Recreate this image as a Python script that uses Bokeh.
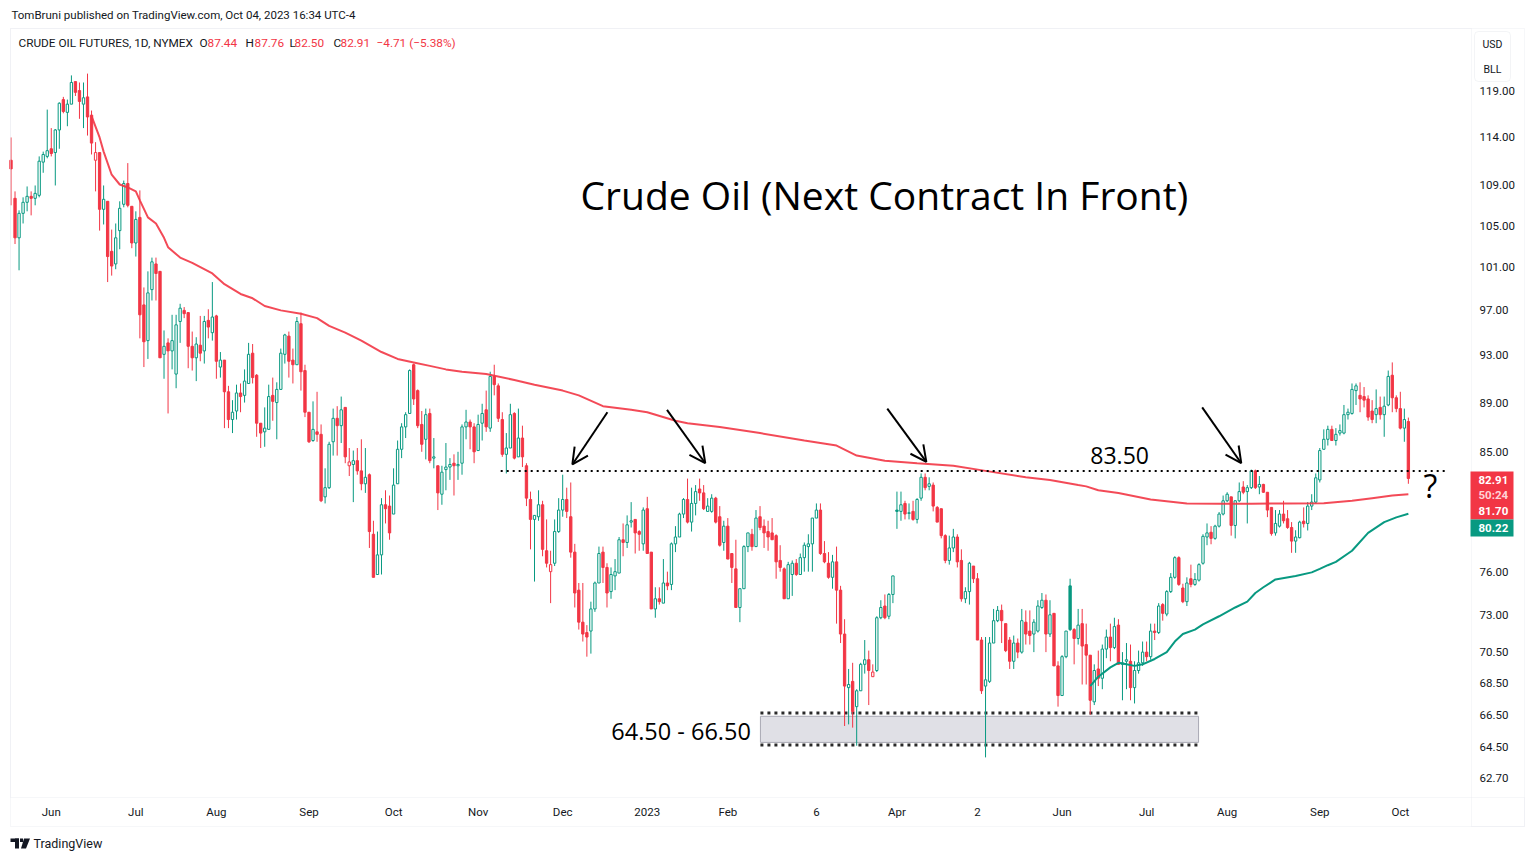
from bokeh.plotting import figure
from bokeh.models import (Range1d, FixedTicker, PrintfTickFormatter, Label,
                          Arrow, OpenHead, BoxAnnotation, PolyAnnotation)
from bokeh.embed import file_html
from bokeh.resources import INLINE

# ---------------- daily candles (bar 0 = 17 May 2022 ... bar 347 = 04 Oct 2023)
opens = [
    111.6, 107.7, 103.8, 106.2, 107.3, 107.9, 107.7, 108.0, 111.4, 112.0,
    112.8, 112.4, 114.8, 118.1, 116.7, 117.6, 120.1, 119.1, 117.6, 118.4,
    116.4, 111.6, 112.4, 106.6, 107.4, 102.5, 101.3, 104.5, 107.1, 109.2,
    106.9, 103.3, 105.8, 97.5, 94.3, 98.9, 101.3, 100.6, 93.1, 94.1,
    93.4, 91.4, 96.0, 97.0, 96.8, 93.8, 92.8, 93.9, 93.4, 96.1,
    95.0, 96.5, 92.0, 92.6, 89.9, 87.6, 88.3, 89.8, 89.6, 90.6,
    93.2, 91.3, 87.3, 86.6, 86.8, 89.6, 89.0, 90.1, 93.1, 94.7,
    92.6, 92.2, 95.8, 91.7, 88.2, 85.9, 86.6, 86.4, 81.5, 82.2,
    85.8, 87.7, 87.1, 88.6, 83.9, 84.0, 84.3, 83.5, 82.5, 83.2,
    78.7, 75.8, 77.2, 80.9, 80.8, 80.2, 82.5, 85.2, 87.0, 88.1,
    92.2, 90.0, 87.2, 86.0, 88.1, 84.5, 83.9, 81.7, 83.6, 83.8,
    84.1, 83.9, 84.1, 87.0, 87.4, 87.0, 85.1, 87.3, 88.4, 86.9,
    91.2, 90.4, 87.6, 84.8, 85.3, 88.1, 84.6, 86.1, 83.9, 81.3,
    79.8, 80.0, 80.9, 77.5, 76.0, 76.6, 78.9, 80.5, 81.3, 80.0,
    77.4, 74.7, 72.5, 71.8, 71.9, 73.4, 75.2, 77.4, 76.3, 74.6,
    75.7, 75.9, 78.3, 78.1, 79.6, 79.8, 78.9, 78.0, 80.6, 77.4,
    73.4, 74.1, 73.8, 75.2, 75.1, 78.0, 78.5, 80.2, 81.3, 79.6,
    81.0, 82.1, 81.8, 80.4, 80.4, 81.4, 80.0, 78.1, 79.3, 77.3,
    76.2, 73.5, 74.8, 77.8, 78.7, 77.8, 80.0, 79.3, 78.9, 78.8,
    78.6, 76.8, 76.2, 74.1, 75.8, 76.6, 75.8, 77.0, 77.8, 78.0,
    79.9, 80.5, 77.3, 76.6, 75.6, 76.7, 74.7, 71.7, 68.2, 68.6,
    67.0, 68.0, 69.7, 70.0, 68.9, 69.3, 72.8, 73.6, 72.9, 74.4,
    80.5, 80.4, 81.0, 80.25, 80.4, 79.8, 81.4, 83.0, 82.3, 82.4,
    80.7, 80.6, 78.6, 76.8, 77.7, 78.5, 76.8, 74.1, 74.6, 76.4,
    75.5, 71.3, 68.3, 68.6, 71.1, 72.6, 73.3, 72.4, 71.3, 69.9,
    71.1, 70.5, 72.5, 71.9, 71.7, 71.9, 73.5, 74.0, 71.7, 73.1,
    69.6, 67.7, 70.2, 75.0, 72.0, 71.4, 72.4, 71.0, 70.3, 67.3,
    69.4, 68.8, 70.7, 71.5, 70.8, 72.3, 69.7, 69.9, 69.9, 68.2,
    69.3, 69.8, 70.5, 70.2, 71.9, 71.8, 73.7, 73.05, 74.6, 75.6,
    77.0, 74.85, 73.9, 75.5, 75.1, 75.4, 76.6, 78.5, 78.85, 78.4,
    79.3, 80.2, 81.2, 81.5, 79.35, 81.2, 82.25, 81.9, 82.2, 83.5,
    82.25, 82.45, 81.85, 80.7, 78.8, 79.3, 80.2, 79.85, 79.2, 78.2,
    78.45, 79.67, 79.5, 80.8, 81.1, 82.8, 85.2, 86.0, 86.8, 85.9,
    86.5, 86.5, 88.0, 88.1, 90.0, 89.6, 89.5, 89.3, 88.3, 88.0,
    88.6, 88.0, 88.8, 91.3, 89.4, 88.5, 86.9, 87.44]
highs = [
    114.0, 108.4, 106.5, 107.8, 108.9, 108.4, 109.0, 112.0, 112.5, 117.0,
    115.0, 114.9, 117.8, 118.4, 118.1, 120.8, 120.1, 120.0, 120.0, 121.0,
    116.9, 113.5, 112.4, 109.0, 107.4, 104.6, 105.2, 107.4, 109.5, 111.3,
    106.9, 106.4, 108.5, 99.1, 100.6, 101.9, 101.9, 100.6, 95.2, 94.5,
    96.6, 96.6, 97.6, 97.3, 96.8, 95.1, 94.6, 96.5, 96.5, 97.1,
    99.6, 96.6, 93.3, 92.6, 90.4, 89.2, 90.5, 90.6, 91.8, 94.1,
    94.0, 91.4, 87.3, 88.6, 90.5, 91.1, 90.7, 93.6, 94.9, 95.1,
    93.6, 96.4, 96.8, 92.2, 88.2, 89.1, 89.9, 87.2, 83.7, 85.8,
    88.5, 88.7, 89.5, 88.6, 85.3, 85.1, 85.3, 86.0, 85.3, 83.3,
    79.7, 78.9, 81.4, 82.0, 81.6, 83.7, 85.9, 87.3, 88.2, 91.8,
    92.3, 90.1, 88.3, 88.5, 88.5, 86.1, 83.9, 83.9, 85.7, 84.5,
    84.8, 85.0, 87.2, 88.4, 87.6, 87.3, 88.0, 88.9, 90.0, 91.6,
    92.2, 90.6, 88.2, 86.5, 88.9, 88.2, 88.5, 87.1, 84.1, 81.9,
    80.1, 82.0, 81.2, 79.8, 77.5, 79.8, 81.4, 83.2, 82.2, 82.6,
    78.0, 75.2, 75.2, 72.3, 73.9, 75.3, 77.8, 77.8, 76.6, 76.3,
    76.9, 78.5, 79.5, 80.1, 81.1, 79.8, 79.0, 80.7, 81.5, 77.4,
    74.9, 74.9, 76.9, 76.0, 78.1, 79.3, 80.3, 81.4, 82.9, 82.2,
    82.4, 82.9, 82.4, 81.4, 81.7, 81.5, 80.8, 79.7, 79.9, 77.3,
    78.3, 74.8, 77.9, 78.8, 79.1, 80.5, 80.8, 79.8, 79.7, 79.9,
    78.7, 77.9, 76.3, 76.7, 76.8, 76.9, 77.3, 78.1, 78.7, 79.9,
    81.0, 81.0, 78.2, 77.4, 77.2, 77.8, 75.0, 72.7, 69.4, 69.8,
    68.1, 69.8, 71.3, 70.6, 69.7, 72.9, 74.0, 74.4, 74.5, 75.7,
    81.9, 81.9, 81.2, 81.0, 81.2, 81.4, 83.3, 83.3, 83.0, 82.6,
    80.8, 80.6, 78.7, 78.6, 79.1, 78.7, 77.6, 74.9, 76.7, 76.4,
    75.9, 71.5, 71.5, 71.5, 73.4, 73.6, 73.7, 72.4, 71.5, 71.6,
    71.4, 73.4, 73.3, 73.3, 72.7, 74.0, 74.5, 74.4, 74.0, 73.1,
    69.9, 70.3, 71.9, 75.5, 72.1, 73.4, 73.4, 72.4, 70.3, 69.7,
    70.6, 71.0, 72.0, 72.4, 72.8, 72.7, 70.5, 71.1, 71.0, 69.9,
    70.6, 71.2, 71.2, 72.4, 72.4, 73.8, 73.8, 74.7, 75.9, 77.1,
    77.1, 75.15, 75.6, 76.5, 75.9, 76.6, 78.7, 79.5, 79.3, 79.4,
    80.35, 81.6, 81.85, 81.5, 81.25, 82.6, 82.7, 82.4, 83.6, 83.6,
    83.1, 82.5, 81.85, 80.7, 80.5, 80.5, 81.2, 80.5, 79.6, 79.0,
    79.7, 80.7, 81.1, 81.7, 83.3, 85.3, 86.8, 87.1, 87.1, 86.9,
    87.2, 88.8, 88.5, 90.6, 90.6, 90.7, 90.3, 89.6, 89.2, 90.1,
    89.5, 89.5, 91.7, 92.4, 89.6, 89.9, 88.5, 87.76]
lows = [
    107.0, 103.2, 100.7, 105.2, 106.4, 106.0, 107.0, 107.8, 110.3, 111.8,
    112.0, 109.0, 112.8, 116.6, 115.2, 117.6, 118.5, 116.0, 115.0, 114.2,
    112.2, 108.4, 104.5, 105.1, 99.6, 100.2, 100.8, 102.7, 106.8, 106.8,
    102.8, 102.0, 94.5, 92.0, 92.7, 97.9, 97.9, 92.8, 91.0, 88.1,
    91.8, 90.2, 94.1, 96.3, 91.9, 91.7, 90.8, 92.5, 92.3, 94.5,
    94.3, 91.0, 91.1, 86.9, 86.9, 86.5, 87.6, 88.2, 89.0, 90.6,
    90.6, 86.2, 85.3, 85.4, 86.8, 87.5, 86.0, 90.1, 92.3, 91.1,
    90.6, 92.2, 90.0, 87.8, 85.7, 85.8, 85.8, 81.1, 81.0, 82.1,
    84.7, 84.7, 85.7, 84.1, 83.1, 81.1, 83.2, 82.0, 81.8, 77.7,
    75.6, 75.8, 75.8, 79.5, 78.3, 80.2, 82.5, 84.5, 86.1, 88.1,
    88.8, 86.9, 85.0, 84.4, 84.1, 83.7, 80.5, 80.9, 82.0, 82.8,
    81.6, 82.8, 83.2, 86.0, 85.2, 84.1, 85.1, 85.9, 86.6, 86.6,
    89.6, 87.4, 84.6, 83.3, 85.3, 84.4, 84.6, 83.8, 80.8, 77.6,
    75.3, 79.7, 77.1, 76.3, 73.8, 76.4, 78.8, 80.0, 79.9, 77.0,
    73.5, 72.0, 71.2, 70.2, 70.4, 73.2, 75.2, 75.2, 73.5, 74.1,
    74.7, 75.9, 77.1, 77.7, 79.2, 77.3, 77.5, 77.5, 77.3, 73.4,
    72.8, 73.7, 73.8, 74.7, 74.7, 77.4, 78.5, 79.9, 79.5, 78.9,
    80.1, 81.2, 80.5, 80.4, 80.3, 79.5, 77.8, 77.5, 76.9, 75.2,
    73.5, 72.5, 74.8, 77.4, 77.5, 77.8, 79.0, 77.7, 77.5, 78.3,
    75.5, 76.0, 74.1, 74.1, 74.3, 75.7, 75.8, 76.0, 76.0, 76.0,
    79.9, 77.2, 76.6, 75.5, 74.8, 72.4, 71.1, 65.8, 65.9, 65.7,
    64.6, 68.0, 69.1, 67.1, 68.9, 69.2, 72.7, 72.7, 72.7, 73.8,
    79.1, 79.7, 79.8, 79.8, 79.7, 79.5, 81.2, 82.0, 82.0, 80.4,
    79.6, 78.4, 76.6, 76.5, 77.4, 76.3, 73.9, 73.8, 73.7, 75.2,
    71.3, 67.8, 63.9, 68.5, 71.1, 72.5, 71.1, 70.5, 69.4, 69.4,
    70.1, 70.4, 71.0, 71.0, 70.5, 71.8, 73.4, 70.5, 71.5, 69.6,
    67.0, 67.7, 70.1, 71.9, 69.7, 71.0, 68.4, 68.4, 66.5, 67.1,
    68.3, 68.1, 70.1, 69.9, 70.7, 69.7, 67.4, 68.1, 67.4, 67.2,
    69.1, 69.6, 69.9, 70.0, 71.3, 71.7, 72.6, 72.9, 74.5, 75.5,
    75.0, 73.8, 73.6, 74.9, 75.0, 75.3, 76.5, 77.9, 77.97, 78.3,
    79.2, 80.1, 81.1, 78.6, 78.4, 81.1, 81.7, 79.5, 82.1, 82.1,
    81.7, 81.8, 79.97, 78.6, 78.6, 79.2, 79.5, 79.1, 77.35, 77.35,
    78.4, 79.2, 78.98, 80.5, 81.0, 82.6, 85.2, 85.5, 85.9, 85.5,
    86.3, 86.4, 87.6, 88.0, 88.8, 88.2, 88.6, 87.5, 87.3, 87.3,
    87.6, 86.2, 88.7, 88.2, 88.2, 86.8, 85.8, 82.50]
closes = [
    110.7, 103.8, 106.2, 107.3, 107.9, 107.7, 108.2, 111.5, 112.2, 112.6,
    112.3, 114.8, 117.7, 116.8, 117.6, 120.0, 118.9, 117.9, 118.3, 116.2,
    113.4, 112.4, 106.6, 107.6, 102.0, 101.1, 103.8, 106.7, 109.2, 107.0,
    103.3, 105.6, 96.6, 94.2, 98.6, 101.5, 100.4, 92.8, 93.8, 93.4,
    94.3, 95.7, 97.2, 96.7, 93.8, 92.8, 94.0, 93.2, 96.0, 95.5,
    96.4, 92.5, 92.6, 89.9, 87.6, 88.2, 89.8, 89.5, 90.8, 93.1,
    91.1, 87.3, 86.5, 86.9, 89.5, 89.1, 90.1, 93.2, 94.8, 92.5,
    92.2, 96.0, 91.6, 88.2, 85.8, 86.8, 86.4, 81.2, 82.2, 85.6,
    87.7, 87.1, 88.4, 84.6, 84.2, 84.3, 83.5, 82.5, 83.0, 78.9,
    75.6, 77.2, 80.9, 80.6, 78.8, 82.4, 85.2, 87.0, 88.0, 91.7,
    89.3, 87.1, 85.6, 88.0, 84.3, 84.6, 81.8, 83.4, 83.8, 84.0,
    83.9, 84.0, 87.0, 87.4, 87.0, 85.0, 87.2, 88.1, 87.0, 91.2,
    90.5, 87.7, 84.8, 85.3, 88.0, 84.5, 86.1, 84.6, 81.4, 79.8,
    80.1, 80.9, 77.6, 76.6, 76.5, 78.9, 80.5, 81.3, 80.4, 77.4,
    74.5, 72.5, 71.7, 71.5, 73.4, 75.2, 77.3, 76.3, 74.5, 75.8,
    76.0, 78.3, 78.1, 79.4, 79.7, 78.8, 78.7, 80.5, 77.3, 73.4,
    74.1, 73.9, 75.2, 75.0, 78.0, 78.5, 80.2, 81.3, 79.6, 81.0,
    81.9, 81.8, 80.6, 80.8, 81.4, 79.6, 77.9, 79.3, 76.9, 76.3,
    73.5, 74.8, 77.8, 78.8, 77.8, 79.9, 79.2, 78.8, 78.5, 78.3,
    76.7, 76.3, 74.1, 76.5, 76.6, 75.8, 77.0, 77.9, 78.0, 79.9,
    80.5, 77.3, 76.7, 75.6, 76.7, 74.7, 71.7, 68.3, 68.4, 66.7,
    68.0, 69.7, 70.0, 69.3, 69.2, 72.8, 73.5, 72.8, 74.4, 75.7,
    80.4, 80.9, 80.2, 80.3, 79.8, 81.3, 83.0, 82.2, 82.5, 80.8,
    79.6, 78.6, 76.8, 77.7, 78.5, 76.7, 74.1, 74.6, 76.6, 75.5,
    71.3, 68.0, 68.7, 71.1, 72.6, 73.3, 72.6, 70.6, 69.9, 71.1,
    70.5, 72.6, 71.7, 71.6, 72.5, 73.6, 74.0, 71.7, 73.0, 69.6,
    67.7, 70.2, 71.9, 72.0, 71.4, 72.3, 70.9, 70.3, 67.4, 69.3,
    68.8, 70.7, 71.5, 70.8, 72.2, 69.7, 69.8, 70.0, 68.2, 69.3,
    69.8, 70.5, 70.2, 71.9, 71.8, 73.6, 73.1, 74.6, 75.6, 77.0,
    75.1, 73.9, 75.2, 75.1, 75.45, 76.5, 78.55, 78.8, 78.4, 79.3,
    80.2, 81.2, 81.7, 79.35, 81.2, 81.9, 81.85, 82.2, 83.5, 82.2,
    82.45, 81.85, 80.5, 78.75, 79.5, 80.2, 79.7, 79.2, 78.2, 78.5,
    79.6, 79.48, 80.8, 81.1, 82.96, 85.1, 86.0, 86.8, 85.9, 86.4,
    86.7, 88.0, 88.2, 90.1, 90.4, 89.3, 89.2, 87.8, 87.6, 88.5,
    88.0, 88.7, 91.2, 89.4, 88.5, 86.9, 87.6, 82.91]

# ---------------- moving averages (bar index, value)
slow_ma_bars = [20, 22, 23, 25, 27, 29, 31, 32, 34, 36, 38, 39, 42, 45, 50, 53, 57, 60, 63, 67,
                72, 76, 79, 83, 87, 92, 96, 100, 104, 108, 112, 118, 125, 130, 137, 141, 147, 154,
                158, 165, 168, 176, 186, 197, 205, 210, 217, 225, 234, 242, 252, 258, 265, 267,
                270, 275, 283, 292, 300, 308, 317, 326, 333, 338, 343, 347]
slow_ma_vals = [116.3, 114.0, 112.5, 110.1, 109.1, 108.8, 108.4, 107.5, 105.8, 105.2, 103.8, 102.9,
                101.9, 101.4, 100.4, 99.4, 98.5, 98.1, 97.4, 97.0, 96.7, 96.3, 95.6, 95.0, 94.3,
                93.3, 92.7, 92.4, 92.1, 91.8, 91.6, 91.4, 90.9, 90.5, 90.0, 89.6, 88.7, 88.4, 88.2,
                87.5, 87.3, 87.0, 86.5, 85.9, 85.5, 84.7, 84.3, 84.1, 83.9, 83.5, 83.0, 82.8, 82.4,
                82.3, 82.0, 81.8, 81.3, 81.0, 80.97, 80.97, 81.0, 81.02, 81.2, 81.4, 81.6, 81.70]
fast_ma_bars = [268, 270, 273, 275, 277, 279, 281, 284, 287, 289, 291, 294, 296, 300, 304, 307,
                309, 311, 314, 319, 323, 325, 327, 329, 333, 337, 341, 344, 347]
fast_ma_vals = [68.3, 68.9, 69.5, 69.8, 69.7, 69.6, 69.7, 70.05, 70.5, 71.2, 71.7, 72.0, 72.35,
                72.9, 73.5, 73.9, 74.5, 74.9, 75.45, 75.7, 75.95, 76.2, 76.46, 76.7, 77.5, 78.8,
                79.6, 79.95, 80.22]

# ---------------- axes
month_ticks = [10, 31, 51, 74, 95, 116, 137, 158, 178, 200, 220, 240, 261, 282, 302, 325, 345]
month_labels = ["Jun", "Jul", "Aug", "Sep", "Oct", "Nov", "Dec", "2023", "Feb", "6",
                "Apr", "2", "Jun", "Jul", "Aug", "Sep", "Oct"]
price_ticks = [119, 114, 109, 105, 101, 97, 93, 89, 85, 76, 73, 70.5, 68.5, 66.5, 64.5, 62.7]

# ---------------- drawings
level_price = 83.5
level_bars = [121.6, 356.3]
zone_bars = [186.1, 294.9]
zone_box = [64.8, 66.4]
zone_dots = [64.65, 66.6]
arrow_x0 = [148.1, 162.9, 217.6, 295.8]
arrow_y0 = [88.2, 88.4, 88.5, 88.6]
arrow_x1 = [139.4, 172.4, 227.3, 305.5]
arrow_y1 = [84.0, 84.1, 84.2, 84.1]

GREEN = "#089981"
RED = "#f23645"
TXT = "#131722"
LINE = "#e0e3eb"
W, H = 1534, 861

# The plotting frame spans the whole page; the price series lives in the
# panel x 10..1471 px, y 29..797 px (scale 4.027 px per bar, log prices).
p = figure(width=W, height=H, x_range=Range1d(-2.608, 378.32),
           y_range=Range1d(57.98, 129.55), y_axis_type="log", y_axis_location="right",
           output_backend="svg", toolbar_location=None,
           min_border_left=0, min_border_right=0, min_border_top=0, min_border_bottom=0)
p.background_fill_color = "white"
p.border_fill_color = "white"
p.outline_line_color = None
p.xgrid.visible = False
p.ygrid.visible = False

p.xaxis.ticker = FixedTicker(ticks=month_ticks)
p.xaxis.major_label_overrides = {t: l for t, l in zip(month_ticks, month_labels)}
p.yaxis.ticker = FixedTicker(ticks=price_ticks)
p.yaxis.formatter = PrintfTickFormatter(format="%.2f")
for ax in (p.xaxis, p.yaxis):
    ax.axis_line_color = None
    ax.major_tick_line_color = None
    ax.minor_tick_line_color = None
    ax.major_tick_out = 0
    ax.major_tick_in = 0
    ax.minor_tick_out = 0
    ax.minor_tick_in = 0
    ax.major_label_text_font = "Roboto"
    ax.major_label_text_font_size = "11.5px"
    ax.major_label_text_color = TXT
p.xaxis.major_label_standoff = -57
p.yaxis.major_label_standoff = -55


def sbox(l, r, t, b, **kw):
    """box in page pixels (top-left origin)"""
    p.add_layout(BoxAnnotation(left=l, right=r, top=H - t, bottom=H - b, left_units="screen",
                               right_units="screen", top_units="screen", bottom_units="screen",
                               **kw))


def scr(text, px, py, size="11px", color=TXT, align="left", font="Roboto", style="normal"):
    lab = Label(x=px, y=H - py, x_units="screen", y_units="screen", text=text,
                text_align=align, text_baseline="middle", text_font=font,
                text_font_size=size, text_color=color, text_font_style=style)
    p.add_layout(lab)
    return lab


# panel borders
sbox(10, 1524, 28, 826, fill_alpha=0, line_color=LINE, line_width=1)
sbox(10, 1471, 28, 797, fill_alpha=0, line_color=LINE, line_width=1)
sbox(1471, 1524, 797, 826, fill_alpha=0, line_color=LINE, line_width=1)

# support zone (under the candles)
p.quad(left=[zone_bars[0]], right=[zone_bars[1]], bottom=[zone_box[0]], top=[zone_box[1]],
       fill_color="#e0e0e6", line_color="#a9a9b4", line_width=1)
for yv in zone_dots:
    p.line(zone_bars, [yv, yv], line_color="#2a2a2a", line_width=3, line_dash="3 4")

# candles
idx = list(range(len(closes)))
cols, fills, tops, bots = [], [], [], []
for i, (o, c) in enumerate(zip(opens, closes)):
    ref = closes[i - 1] if i > 0 else o
    col = GREEN if c >= ref else RED
    cols.append(col)
    fills.append("white" if c > o else col)
    tops.append(max(o, c))
    bots.append(min(o, c))

p.segment(x0=idx, y0=lows, x1=idx, y1=highs, line_color=cols, line_width=1)
p.vbar(x=idx, top=tops, bottom=bots, width=0.58, fill_color=fills, line_color=cols, line_width=1)

p.line(slow_ma_bars, slow_ma_vals, line_color=RED, line_width=2, line_alpha=0.9)
p.line(fast_ma_bars, fast_ma_vals, line_color=GREEN, line_width=2)

# resistance level
p.line(level_bars, [level_price, level_price], line_color="black", line_width=2, line_dash="2 4")

for x0, y0, x1, y1 in zip(arrow_x0, arrow_y0, arrow_x1, arrow_y1):
    p.add_layout(Arrow(end=OpenHead(size=16, line_width=2, line_color="black"),
                       x_start=x0, y_start=y0, x_end=x1, y_end=y1,
                       line_width=2, line_color="black"))

# data-anchored texts
p.add_layout(Label(x=275.3, y=84.7, text="83.50", text_align="center", text_baseline="middle",
                   text_font="Open Sans", text_font_size="23px", text_color="black"))
p.add_layout(Label(x=166.4, y=65.5, text="64.50 - 66.50", text_align="center",
                   text_baseline="middle", text_font="Open Sans", text_font_size="23.5px",
                   text_color="black"))
p.add_layout(Label(x=352.5, y=82.4, text="?", text_align="center", text_baseline="middle",
                   text_font="Open Sans", text_font_size="32px", text_color="black"))

# page texts
scr("Crude Oil (Next Contract In Front)", 580, 194, size="39px", font="Open Sans", color="black")
scr("TomBruni published on TradingView.com, Oct 04, 2023 16:34 UTC-4", 11, 14, size="11.5px")
scr("CRUDE OIL FUTURES, 1D, NYMEX", 18, 42, size="11.8px")
for t, x, c in [("O", 199, TXT), ("87.44", 207, RED), ("H", 245, TXT), ("87.76", 254, RED),
                ("L", 289, TXT), ("82.50", 294, RED), ("C", 333, TXT), ("82.91", 340, RED),
                ("\u22124.71 (\u22125.38%)", 376, RED)]:
    scr(t, x, 42, size="11.8px", color=c)
scr("TradingView", 33, 843, size="12.5px")

# TradingView mark next to the footer text
sbox(10, 18.5, 838, 841.5, fill_color=TXT, fill_alpha=1, line_color=None)
sbox(14.5, 18.5, 838, 848, fill_color=TXT, fill_alpha=1, line_color=None)
sbox(19.5, 22.5, 838, 841.5, fill_color=TXT, fill_alpha=1, line_color=None)
p.add_layout(PolyAnnotation(xs=[23.5, 29.5, 25.5, 20.5], ys=[H - 838, H - 838, H - 848, H - 848],
                            xs_units="screen", ys_units="screen", fill_color=TXT, fill_alpha=1,
                            line_color=None))

# currency / unit box on the price scale
try:
    sbox(1474, 1510, 31, 81, fill_color="white", fill_alpha=1, line_color="#d6d9e1",
         line_width=1, border_radius=4)
except Exception:
    sbox(1474, 1510, 31, 81, fill_color="white", fill_alpha=1, line_color="#d6d9e1",
         line_width=1)
scr("USD", 1492, 44, size="10.5px", align="center")
scr("BLL", 1492, 69, size="10.5px", align="center")

# price tags on the scale
sbox(1470, 1513, 471, 519, fill_color=RED, fill_alpha=1, line_color=None)
sbox(1470, 1513, 519, 536, fill_color=GREEN, fill_alpha=1, line_color=None)
scr("82.91", 1478, 479, size="11.5px", color="white", style="bold")
scr("50:24", 1478, 494, size="11.5px", color="#ffd3d7", style="bold")
scr("81.70", 1478, 510, size="11.5px", color="white", style="bold")
scr("80.22", 1478, 527, size="11.5px", color="white", style="bold")

open("out.html", "w").write(file_html(p, INLINE))
